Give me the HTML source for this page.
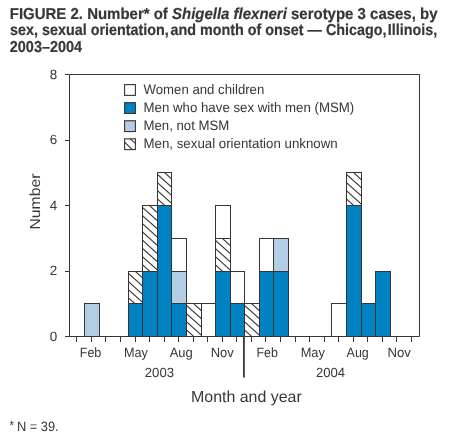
<!DOCTYPE html>
<html><head><meta charset="utf-8"><style>
html,body{margin:0;padding:0;background:#fff;}
svg{display:block;will-change:transform;}
text{font-family:"Liberation Sans",sans-serif;fill:#3a3536;text-rendering:geometricPrecision;}
</style></head><body>
<svg width="450" height="443" viewBox="0 0 450 443">
<defs>
<clipPath id="c1"><rect x="128.50" y="271.50" width="14.000" height="32.00"/></clipPath>
<clipPath id="c2"><rect x="142.50" y="205.50" width="15.000" height="66.00"/></clipPath>
<clipPath id="c3"><rect x="157.50" y="172.50" width="14.000" height="33.00"/></clipPath>
<clipPath id="c4"><rect x="186.50" y="303.50" width="15.000" height="33.00"/></clipPath>
<clipPath id="c5"><rect x="215.50" y="238.50" width="15.000" height="33.00"/></clipPath>
<clipPath id="c6"><rect x="244.50" y="303.50" width="15.000" height="33.00"/></clipPath>
<clipPath id="c7"><rect x="346.50" y="172.50" width="15.000" height="33.00"/></clipPath>
</defs>
<rect width="450" height="443" fill="#fff"/>
<rect x="84.50" y="303.50" width="15.000" height="33.00" fill="#b2cde6"/>
<rect x="128.50" y="303.50" width="14.000" height="33.00" fill="#0082c2"/>
<rect x="128.50" y="271.50" width="14.000" height="32.00" fill="#ffffff"/>
<rect x="142.50" y="271.50" width="15.000" height="65.00" fill="#0082c2"/>
<rect x="142.50" y="205.50" width="15.000" height="66.00" fill="#ffffff"/>
<rect x="157.50" y="205.50" width="14.000" height="131.00" fill="#0082c2"/>
<rect x="157.50" y="172.50" width="14.000" height="33.00" fill="#ffffff"/>
<rect x="171.50" y="303.50" width="15.000" height="33.00" fill="#0082c2"/>
<rect x="171.50" y="271.50" width="15.000" height="32.00" fill="#b2cde6"/>
<rect x="171.50" y="238.50" width="15.000" height="33.00" fill="#ffffff"/>
<rect x="186.50" y="303.50" width="15.000" height="33.00" fill="#ffffff"/>
<rect x="201.50" y="303.50" width="14.000" height="33.00" fill="#ffffff"/>
<rect x="215.50" y="271.50" width="15.000" height="65.00" fill="#0082c2"/>
<rect x="215.50" y="238.50" width="15.000" height="33.00" fill="#ffffff"/>
<rect x="215.50" y="205.50" width="15.000" height="33.00" fill="#ffffff"/>
<rect x="230.50" y="303.50" width="14.000" height="33.00" fill="#0082c2"/>
<rect x="230.50" y="271.50" width="14.000" height="32.00" fill="#ffffff"/>
<rect x="244.50" y="303.50" width="15.000" height="33.00" fill="#ffffff"/>
<rect x="259.50" y="271.50" width="14.000" height="65.00" fill="#0082c2"/>
<rect x="259.50" y="238.50" width="14.000" height="33.00" fill="#ffffff"/>
<rect x="273.50" y="271.50" width="15.000" height="65.00" fill="#0082c2"/>
<rect x="273.50" y="238.50" width="15.000" height="33.00" fill="#b2cde6"/>
<rect x="331.50" y="303.50" width="15.000" height="33.00" fill="#ffffff"/>
<rect x="346.50" y="205.50" width="15.000" height="131.00" fill="#0082c2"/>
<rect x="346.50" y="172.50" width="15.000" height="33.00" fill="#ffffff"/>
<rect x="361.50" y="303.50" width="14.000" height="33.00" fill="#0082c2"/>
<rect x="375.50" y="271.50" width="15.000" height="65.00" fill="#0082c2"/>
<g fill="none" stroke="#3a3334" stroke-width="1.1">
<path clip-path="url(#c1)" d="M126.50,263.40L144.50,279.60M126.50,271.60L144.50,287.80M126.50,279.80L144.50,296.00M126.50,288.00L144.50,304.20M126.50,296.20L144.50,312.40"/>
<path clip-path="url(#c2)" d="M140.50,189.20L159.50,206.30M140.50,197.40L159.50,214.50M140.50,205.60L159.50,222.70M140.50,213.80L159.50,230.90M140.50,222.00L159.50,239.10M140.50,230.20L159.50,247.30M140.50,238.40L159.50,255.50M140.50,246.60L159.50,263.70M140.50,254.80L159.50,271.90M140.50,263.00L159.50,280.10"/>
<path clip-path="url(#c3)" d="M155.50,164.40L173.50,180.60M155.50,172.60L173.50,188.80M155.50,180.80L173.50,197.00M155.50,189.00L173.50,205.20M155.50,197.20L173.50,213.40"/>
<path clip-path="url(#c4)" d="M184.50,287.20L203.50,304.30M184.50,295.40L203.50,312.50M184.50,303.60L203.50,320.70M184.50,311.80L203.50,328.90M184.50,320.00L203.50,337.10M184.50,328.20L203.50,345.30"/>
<path clip-path="url(#c5)" d="M213.50,222.20L232.50,239.30M213.50,230.40L232.50,247.50M213.50,238.60L232.50,255.70M213.50,246.80L232.50,263.90M213.50,255.00L232.50,272.10M213.50,263.20L232.50,280.30"/>
<path clip-path="url(#c6)" d="M242.50,287.20L261.50,304.30M242.50,295.40L261.50,312.50M242.50,303.60L261.50,320.70M242.50,311.80L261.50,328.90M242.50,320.00L261.50,337.10M242.50,328.20L261.50,345.30"/>
<path clip-path="url(#c7)" d="M344.50,156.20L363.50,173.30M344.50,164.40L363.50,181.50M344.50,172.60L363.50,189.70M344.50,180.80L363.50,197.90M344.50,189.00L363.50,206.10M344.50,197.20L363.50,214.30"/>
</g>
<g fill="none" stroke="#3a3334" stroke-width="1.0">
<rect x="84.50" y="303.50" width="15.000" height="33.00"/>
<rect x="128.50" y="303.50" width="14.000" height="33.00"/>
<rect x="128.50" y="271.50" width="14.000" height="32.00"/>
<rect x="142.50" y="271.50" width="15.000" height="65.00"/>
<rect x="142.50" y="205.50" width="15.000" height="66.00"/>
<rect x="157.50" y="205.50" width="14.000" height="131.00"/>
<rect x="157.50" y="172.50" width="14.000" height="33.00"/>
<rect x="171.50" y="303.50" width="15.000" height="33.00"/>
<rect x="171.50" y="271.50" width="15.000" height="32.00"/>
<rect x="171.50" y="238.50" width="15.000" height="33.00"/>
<rect x="186.50" y="303.50" width="15.000" height="33.00"/>
<rect x="201.50" y="303.50" width="14.000" height="33.00"/>
<rect x="215.50" y="271.50" width="15.000" height="65.00"/>
<rect x="215.50" y="238.50" width="15.000" height="33.00"/>
<rect x="215.50" y="205.50" width="15.000" height="33.00"/>
<rect x="230.50" y="303.50" width="14.000" height="33.00"/>
<rect x="230.50" y="271.50" width="14.000" height="32.00"/>
<rect x="244.50" y="303.50" width="15.000" height="33.00"/>
<rect x="259.50" y="271.50" width="14.000" height="65.00"/>
<rect x="259.50" y="238.50" width="14.000" height="33.00"/>
<rect x="273.50" y="271.50" width="15.000" height="65.00"/>
<rect x="273.50" y="238.50" width="15.000" height="33.00"/>
<rect x="331.50" y="303.50" width="15.000" height="33.00"/>
<rect x="346.50" y="205.50" width="15.000" height="131.00"/>
<rect x="346.50" y="172.50" width="15.000" height="33.00"/>
<rect x="361.50" y="303.50" width="14.000" height="33.00"/>
<rect x="375.50" y="271.50" width="15.000" height="65.00"/>
<path d="M69.5,74.5 V336.5 H419.5 V74.5 H69.5"/>
<path d="M65,336.50 H69.5"/>
<path d="M65,271.50 H69.5"/>
<path d="M65,205.50 H69.5"/>
<path d="M65,140.50 H69.5"/>
<path d="M65,74.50 H69.5"/>
<path d="M76.50,336.5 V342.0"/>
<path d="M91.50,336.5 V342.0"/>
<path d="M105.50,336.5 V342.0"/>
<path d="M120.50,336.5 V342.0"/>
<path d="M135.50,336.5 V342.0"/>
<path d="M149.50,336.5 V342.0"/>
<path d="M164.50,336.5 V342.0"/>
<path d="M178.50,336.5 V342.0"/>
<path d="M193.50,336.5 V342.0"/>
<path d="M207.50,336.5 V342.0"/>
<path d="M222.50,336.5 V342.0"/>
<path d="M236.50,336.5 V342.0"/>
<path d="M251.50,336.5 V342.0"/>
<path d="M265.50,336.5 V342.0"/>
<path d="M280.50,336.5 V342.0"/>
<path d="M295.50,336.5 V342.0"/>
<path d="M309.50,336.5 V342.0"/>
<path d="M324.50,336.5 V342.0"/>
<path d="M338.50,336.5 V342.0"/>
<path d="M353.50,336.5 V342.0"/>
<path d="M367.50,336.5 V342.0"/>
<path d="M382.50,336.5 V342.0"/>
<path d="M396.50,336.5 V342.0"/>
<path d="M411.50,336.5 V342.0"/>
</g>
<path d="M243.9,336.25 V377.6" stroke="#3a3334" stroke-width="1.8"/>
<rect x="124.6" y="84.60" width="10.8" height="10.8" fill="#ffffff" stroke="#3a3334" stroke-width="1.1"/>
<rect x="124.6" y="102.67" width="10.8" height="10.8" fill="#0082c2" stroke="#3a3334" stroke-width="1.1"/>
<rect x="124.6" y="120.74" width="10.8" height="10.8" fill="#b2cde6" stroke="#3a3334" stroke-width="1.1"/>
<rect x="124.6" y="138.81" width="10.8" height="10.8" fill="#ffffff" stroke="#3a3334" stroke-width="1.1"/>
<path d="M124.6,142.21 L132.3,149.61 M130.2,138.81 L135.4,143.41" stroke="#3a3334" stroke-width="1.1"/>
<text x="9.8" y="18.7" font-size="15.8" font-weight="bold" stroke="#3a3536" stroke-width="0.2" textLength="427.7" lengthAdjust="spacingAndGlyphs">FIGURE 2. Number* of <tspan font-style="italic">Shigella flexneri</tspan> serotype 3 cases, by</text>
<text x="10.1" y="34.5" font-size="15.8" font-weight="bold" stroke="#3a3536" stroke-width="0.2" textLength="427.1" lengthAdjust="spacingAndGlyphs">sex, sexual orientation, <tspan dx="-2.5">and month of onset</tspan> — Chicago, <tspan dx="-3">Illinois,</tspan></text>
<text x="9.8" y="51.6" font-size="15.8" font-weight="bold" stroke="#3a3536" stroke-width="0.2" textLength="72.3" lengthAdjust="spacingAndGlyphs">2003–2004</text>
<text x="49.8" y="340.85" font-size="13.4">0</text>
<text x="49.8" y="275.34" font-size="13.4">2</text>
<text x="49.8" y="209.83" font-size="13.4">4</text>
<text x="49.8" y="144.31" font-size="13.4">6</text>
<text x="49.8" y="78.80" font-size="13.4">8</text>
<text x="143.5" y="93.5" textLength="120.8" lengthAdjust="spacingAndGlyphs" font-size="13.7" font-weight="normal" >Women and children</text>
<text x="143.5" y="111.7" textLength="210.8" lengthAdjust="spacingAndGlyphs" font-size="13.7" font-weight="normal" >Men who have sex with men (MSM)</text>
<text x="143.5" y="129.9" textLength="85.8" lengthAdjust="spacingAndGlyphs" font-size="13.7" font-weight="normal" >Men, not MSM</text>
<text x="143.5" y="148.1" textLength="194.2" lengthAdjust="spacingAndGlyphs" font-size="13.7" font-weight="normal" >Men, sexual orientation unknown</text>
<text x="79.8" y="356.9" textLength="21.5" lengthAdjust="spacingAndGlyphs" font-size="13.3" font-weight="normal" >Feb</text>
<text x="123.9" y="356.9" textLength="24.0" lengthAdjust="spacingAndGlyphs" font-size="13.3" font-weight="normal" >May</text>
<text x="169.7" y="356.9" textLength="23.1" lengthAdjust="spacingAndGlyphs" font-size="13.3" font-weight="normal" >Aug</text>
<text x="210.7" y="356.9" textLength="23.1" lengthAdjust="spacingAndGlyphs" font-size="13.3" font-weight="normal" >Nov</text>
<text x="256.5" y="356.9" textLength="21.4" lengthAdjust="spacingAndGlyphs" font-size="13.3" font-weight="normal" >Feb</text>
<text x="300.7" y="356.9" textLength="24.2" lengthAdjust="spacingAndGlyphs" font-size="13.3" font-weight="normal" >May</text>
<text x="346.6" y="356.9" textLength="22.2" lengthAdjust="spacingAndGlyphs" font-size="13.3" font-weight="normal" >Aug</text>
<text x="387.4" y="356.9" textLength="23.4" lengthAdjust="spacingAndGlyphs" font-size="13.3" font-weight="normal" >Nov</text>
<text x="144.8" y="376.9" textLength="29.3" lengthAdjust="spacingAndGlyphs" font-size="13.3" font-weight="normal" >2003</text>
<text x="316" y="376.8" textLength="29.1" lengthAdjust="spacingAndGlyphs" font-size="13.3" font-weight="normal" >2004</text>
<text x="191.1" y="402.2" textLength="110.6" lengthAdjust="spacingAndGlyphs" font-size="16" font-weight="normal" >Month and year</text>
<text x="9.6" y="429.6" textLength="4.5" lengthAdjust="spacingAndGlyphs" font-size="14" font-weight="normal" >*</text>
<text x="16.9" y="430.6" textLength="41.8" lengthAdjust="spacingAndGlyphs" font-size="13.5" font-weight="normal" >N = 39.</text>
<text transform="translate(39.7,229.5) rotate(-90)" x="0" y="0" font-size="14.5" textLength="56" lengthAdjust="spacingAndGlyphs">Number</text>
</svg>
</body></html>
